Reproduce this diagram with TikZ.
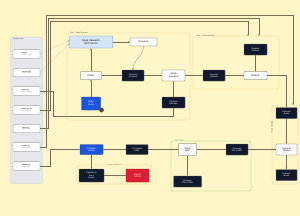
\documentclass[tikz,border=0pt]{standalone}
\usepackage{fontspec}
\setmainfont{Liberation Sans}
\usetikzlibrary{arrows.meta}
\definecolor{bg}{RGB}{254,246,198}
\definecolor{navy}{RGB}{16,26,44}
\definecolor{bluefill}{RGB}{30,84,222}
\definecolor{mcpfill}{RGB}{214,228,248}
\definecolor{mcpdraw}{RGB}{100,140,215}
\definecolor{redfill}{RGB}{222,30,50}
\definecolor{grp}{RGB}{220,202,140}
\definecolor{greengrp}{RGB}{130,200,125}
\definecolor{greentext}{RGB}{40,130,50}
\definecolor{panel}{RGB}{229,231,235}
\definecolor{paneldraw}{RGB}{198,202,208}
\definecolor{wire}{RGB}{118,110,88}
\definecolor{dotwire}{RGB}{140,150,170}
\definecolor{frlabel}{RGB}{170,70,40}
\definecolor{avatar}{RGB}{92,62,40}
\tikzset{
  wbox/.style={draw=black!70, fill=white, line width=0.5pt, rounded corners=0.6mm, align=center,
    font=\fontsize{6.5}{7.5}\selectfont, inner sep=0.4mm},
  dbox/.style={wbox, fill=navy, draw=black!60, text=white, font=\fontsize{5.8}{6.8}\selectfont},
  bbox/.style={wbox, fill=bluefill, draw=bluefill!70!black, text=white},
  rbox/.style={wbox, fill=redfill, draw=redfill!70!black, text=white},
  mbox/.style={wbox, fill=mcpfill, draw=mcpdraw, line width=0.7pt, font=\fontsize{7}{8}\selectfont},
  model/.style={draw=black!55, fill=white, line width=0.5pt, rounded corners=0.4mm, align=left,
    minimum width=27mm, minimum height=8.5mm, inner sep=0.8mm, font=\fontsize{5}{5.5}\selectfont},
  grpbox/.style={draw=grp, line width=0.6pt, rounded corners=2mm},
  grplabel/.style={fill=bg, inner sep=0.4mm, font=\fontsize{5}{5.5}\selectfont, text=black!75},
  wire/.style={draw=wire, line width=0.55pt, -{Stealth[length=1.8mm,width=1.4mm]}},
  dwire/.style={wire, draw=dotwire, dotted, line width=0.7pt}
}
\newcommand{\mdl}[2]{#1\\[-0.3mm]{\fontsize{3.8}{4.3}\selectfont\color{black!55}#2}}
\begin{document}
\begin{tikzpicture}[x=1mm,y=-1mm]
\fill[bg] (0,0) rectangle (300,216);
\useasboundingbox (0,0) rectangle (300,216);

% groups
\draw[fill=panel, draw=paneldraw, line width=0.6pt, rounded corners=2mm] (10.5,37) rectangle (42.5,183.5);
\node[anchor=west, inner sep=0.3mm, font=\fontsize{5}{5.5}\selectfont, text=black!70] (lmodels) at (13,39.5) {Models Layer};
\draw[grpbox] (67,33) rectangle (190,120);
\draw[grpbox] (193,36) rectangle (279,89);
\draw[grpbox] (272,105) rectangle (298,184);
\draw[grpbox, draw=greengrp, line width=0.8pt] (171,141) rectangle (251,191);
\draw[grpbox] (77,165) rectangle (152,184);
\node[grplabel, anchor=west] (lcore) at (70,33) {Core · Deep Research};
\node[grplabel, anchor=west] (lart) at (196,36) {Artist · Artifact Workflow};
\node[grplabel, rotate=90] (lmedia) at (272,127) {Media Workflow};
\node[grplabel, anchor=west, text=greentext] (ltitle) at (174,141) {Title \& SEO};
\node[grplabel, text=frlabel] (lfr) at (114.5,165) {French Translation};

% models
\node[model] (m1) at (26.5,54) {\mdl{tavily.py}{Research · Tavily}};
\node[model] (m2) at (26.5,72.5) {\mdl{research.py}{Deep research}};
\node[model] (m3) at (26.5,91) {\mdl{gemini.py}{Gemini provider}};
\node[model] (m4) at (26.5,110) {\mdl{image\_gen.py}{Image generation}};
\node[model] (m5) at (26.5,128.5) {\mdl{article.py}{Article schema}};
\node[model] (m6) at (26.5,147) {\mdl{media.py}{Media assets}};
\node[model] (m7) at (26.5,166) {\mdl{portable.py}{HTML export}};

% core nodes
\node[mbox, minimum width=43mm, minimum height=12mm] (mcp) at (91,42) {Deep Research\\MCP Server};
\node[wbox, minimum width=27mm, minimum height=8mm] (res) at (143.5,42) {Research};
\node[wbox, minimum width=21mm, minimum height=8mm] (out) at (91,75.5) {Outline};
\node[dbox, minimum width=22mm, minimum height=11mm] (gn) at (133,75.5) {Generate\\Narrative};
\node[wbox, minimum width=23mm, minimum height=11mm] (an) at (173.5,75.5) {Article\\Narrative};
\node[bbox, minimum width=19mm, minimum height=13mm] (bd) at (91,103.5) {Brain\\Dump};
\node[circle, fill=avatar, draw=black!60, line width=0.4pt, minimum size=4.5mm, inner sep=0] (av) at (101.5,110) {};
\node[dbox, minimum width=23mm, minimum height=11mm] (en) at (173.5,102.5) {Evaluate\\Narrative};

% artifact nodes
\node[dbox, minimum width=23mm, minimum height=11mm] (ea) at (255.5,49.5) {Evaluate\\Artifacts};
\node[dbox, minimum width=22mm, minimum height=11mm] (ga) at (214,75.5) {Generate\\Artifacts};
\node[wbox, minimum width=23mm, minimum height=8mm] (art) at (255.5,75.5) {Artifacts};

% media nodes
\node[dbox, minimum width=21mm, minimum height=11mm] (gm) at (286.5,113) {Generate\\Media};
\node[wbox, minimum width=21mm, minimum height=11mm] (am) at (286.5,149.5) {Article \&\\Media};
\node[dbox, minimum width=21mm, minimum height=11mm] (em) at (286.5,175) {Evaluate\\Media};

% title nodes
\node[dbox, minimum width=22mm, minimum height=11mm] (gt) at (237,149.5) {Generate\\Title \& SEO};
\node[wbox, minimum width=18mm, minimum height=12mm] (ts) at (187.5,149.5) {Title \&\\SEO};
\node[dbox, minimum width=28mm, minimum height=11mm] (et) at (187.5,181.5) {Evaluate\\Title \& SEO};

% portable / french
\node[dbox, minimum width=22mm, minimum height=10mm] (ph) at (137,149.5) {To Portable\\HTML};
\node[bbox, minimum width=23mm, minimum height=10mm] (pa) at (91.5,149.5) {Portable\\Article};
\node[dbox, minimum width=25mm, minimum height=13mm] (tr) at (91.5,175.5) {Translate to\\Text +\\Visuals};
\node[rbox, minimum width=23mm, minimum height=13mm] (fa) at (137.5,175.5) {French\\Article};

% free ends
\coordinate (ag1) at (248,36);
\coordinate (ag2) at (259,36);
\coordinate (mg1) at (293,105);

% model connectors
\draw[dwire] (m1.east) -- ([yshift=1.5mm]mcp.west);
\draw[dwire] (m2.east) -- ([yshift=-1.5mm]mcp.west);
\draw[wire] (m3.east) -| (53,116) -| (en.south);
\draw[wire] (m4.east) -| (50,21) -| (ag1);
\draw[wire] (m5.east) -| (48,18) -| (ag2);
\draw[wire] (m6.east) -| (46,15) -| (mg1);
\draw[wire] (m7.east) -| (50,149.5) -- (pa.west);

% core connectors
\draw[wire] (bd.north) -- (out.south);
\draw[wire] (out.north) -- (mcp.south);
\draw[wire] (mcp.east) -- (res.west);
\draw[wire] (res.south) .. controls +(0,10) and +(0,-10) .. (gn.north);
\draw[wire] (out.east) -- (gn.west);
\draw[wire] (gn.east) -- (an.west);
\draw[wire] (en.north) -- (an.south);
\draw[wire] (an.east) -- (ga.west);
\draw[wire] (ga.east) -- (art.west);
\draw[wire] (ea.south) -- (art.north);
\draw[wire] (art.east) -| (gm.north);
\draw[wire] (gm.south) -- (am.north);
\draw[wire] (am.south) -- (em.north);
\draw[wire] (am.west) -- (gt.east);
\draw[wire] (gt.west) -- (ts.east);
\draw[wire] (ts.south) -- (et.north);
\draw[wire] (ts.west) -- (ph.east);
\draw[wire] (ph.west) -- (pa.east);
\draw[wire] (pa.south) -- (tr.north);
\draw[wire] (tr.east) -- (fa.west);
\end{tikzpicture}
\end{document}
